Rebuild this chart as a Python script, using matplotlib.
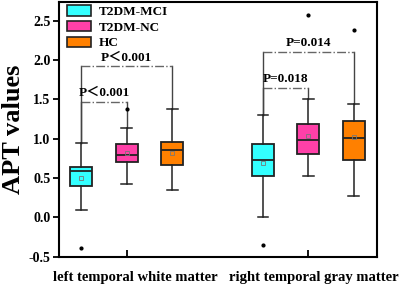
import matplotlib
matplotlib.use("Agg")
import matplotlib.pyplot as plt
from matplotlib.patches import Patch

plt.rcParams["font.family"] = ["Liberation Serif", "Noto Sans CJK SC"]
plt.rcParams["font.weight"] = "bold"

groups = ["left temporal white matter", "right temporal gray matter"]
series = ["T2DM-MCI", "T2DM-NC", "HC"]
colors = ["#33FFFF", "#FF40A8", "#FF8000"]

# box statistics, per group, per series
whislo = [[0.097, 0.428, 0.343], [0.008, 0.52, 0.275]]
q1 = [[0.394, 0.70, 0.66], [0.52, 0.80, 0.725]]
med = [[0.585, 0.798, 0.856], [0.725, 0.987, 1.01]]
q3 = [[0.644, 0.93, 0.953], [0.933, 1.183, 1.22]]
whishi = [[0.95, 1.14, 1.374], [1.30, 1.505, 1.44]]
means = [[0.504, 0.82, 0.82], [0.695, 1.04, 1.02]]
fliers = [[[-0.39], [1.374], []], [[-0.35], [2.57], [2.387]]]

# significance brackets: (group, series_a, series_b, height, label)
brackets = [
    (0, 0, 1, 1.47, "P＜0.001"),
    (0, 0, 2, 1.92, "P＜0.001"),
    (1, 0, 1, 1.65, "P=0.018"),
    (1, 0, 2, 2.107, "P=0.014"),
]

offsets = [-0.25, 0.0, 0.25]

fig = plt.figure(figsize=(4.0, 2.99), dpi=100)
ax = fig.add_axes([0.1475, 0.1415, 0.795, 0.852])

for g in range(len(groups)):
    for s in range(len(series)):
        pos = g + 1 + offsets[s]
        stats = [{
            "whislo": whislo[g][s], "q1": q1[g][s], "med": med[g][s],
            "q3": q3[g][s], "whishi": whishi[g][s], "mean": means[g][s],
            "fliers": fliers[g][s],
        }]
        ax.bxp(
            stats, positions=[pos], widths=0.121, capwidths=0.06,
            patch_artist=True, showmeans=True,
            boxprops=dict(facecolor=colors[s], edgecolor="#222222", linewidth=1.3),
            medianprops=dict(color="#222222", linewidth=1.3),
            whiskerprops=dict(color="#222222", linewidth=1.1),
            capprops=dict(color="#222222", linewidth=1.1),
            meanprops=dict(marker="s", markersize=3.2, markerfacecolor="none",
                           markeredgecolor="#777777", markeredgewidth=0.6),
            flierprops=dict(marker="o", markersize=2, markerfacecolor="black",
                            markeredgecolor="black"),
        )

for g, a, b, h, label in brackets:
    xa = g + 1 + offsets[a]
    xb = g + 1 + offsets[b]
    ax.plot([xa, xa], [whishi[g][a], h], color="#444444", lw=1.0, zorder=1)
    ax.plot([xb, xb], [whishi[g][b], h], color="#444444", lw=1.0, zorder=1)
    ax.plot([xa, xb], [h, h], color="#666666", lw=1.0, ls="-.", zorder=1)
    ax.text((xa + xb) / 2, h + 0.035, label, ha="center", va="bottom",
            fontsize=9.5, fontweight="bold")

ax.set_xlim(0.627, 2.378)
ax.set_ylim(-0.5, 2.74)
# major ticks mark group centres; labels sit on minor ticks, a bit to the right
ax.set_xticks([1, 2], ["", ""])
ax.set_xticks([1.045, 2.03], groups, minor=True, fontsize=10.5, fontweight="bold")
ax.tick_params(axis="x", which="major", direction="in", length=5, width=1.3)
ax.tick_params(axis="x", which="minor", length=0, pad=10)
ax.set_yticks([-0.5, 0.0, 0.5, 1.0, 1.5, 2.0, 2.5])
ax.set_yticklabels(["-0.5", "0.0", "0.5", "1.0", "1.5", "2.0", "2.5"],
                   fontsize=10, fontweight="bold")
ax.tick_params(axis="y", direction="out", length=4, width=1.3, pad=2)
ax.set_ylabel("APT values", fontsize=19, fontweight="bold", labelpad=3)
for sp in ax.spines.values():
    sp.set_linewidth(1.5)

handles = [Patch(facecolor=c, edgecolor="#222222", linewidth=1.2) for c in colors]
ax.legend(handles, series, loc="upper left", bbox_to_anchor=(0.015, 1.0),
          borderaxespad=0, frameon=False, handlelength=1.82, handleheight=0.84,
          labelspacing=0.22, handletextpad=0.55, borderpad=0.25,
          prop={"weight": "bold", "size": 9.5})

fig.savefig("out.png", dpi=100)
